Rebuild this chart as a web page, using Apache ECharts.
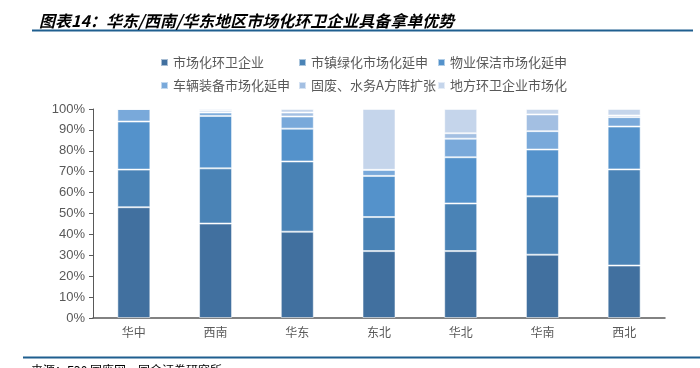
<!DOCTYPE html>
<html>
<head>
<meta charset="utf-8">
<script src="https://cdn.jsdelivr.net/npm/echarts@6/dist/echarts.min.js"></script>
<style>
html,body{margin:0;padding:0;background:#fff;}
#c{width:700px;height:368px;}
</style>
</head>
<body>
<div id="c"></div>
<script>
const categories = ['华中', '西南', '华东', '东北', '华北', '华南', '西北'];
const seriesNames = ['市场化环卫企业', '市镇绿化市场化延申', '物业保洁市场化延申', '车辆装备市场化延申', '固废、水务A方阵扩张', '地方环卫企业市场化'];
const s1 = [53.0, 45.2, 41.3, 32.0, 32.0, 30.3, 25.1];
const s2 = [18.0, 26.4, 33.6, 16.3, 22.8, 27.9, 46.0];
const s3 = [23.0, 25.1, 15.7, 19.7, 22.1, 22.4, 20.5];
const s4 = [6.0, 1.6, 5.8, 2.9, 8.9, 8.8, 4.5];
const s5 = [0, 0.9, 1.9, 0, 2.6, 8.0, 0.8];
const s6 = [0, 0.8, 1.7, 29.1, 11.6, 2.6, 3.1];
const yTicks = [0, 10, 20, 30, 40, 50, 60, 70, 80, 90, 100];
const colors = ['#41709f', '#4a83b6', '#5492cb', '#79a9da', '#a3bfe2', '#c5d5eb'];
const allData = [s1, s2, s3, s4, s5, s6];

const chart = echarts.init(document.getElementById('c'), null, {renderer: 'canvas'});
const legendText = {color: '#595959', fontSize: 13, fontFamily: 'Noto Sans CJK SC'};
const legendLefts = [155, 293, 432];
const legendTops = [51, 74];
const legends = seriesNames.map((n, i) => ({
  data: [n],
  left: legendLefts[i % 3], top: legendTops[Math.floor(i / 3)],
  itemWidth: 7, itemHeight: 7, icon: 'rect', itemGap: 0,
  textStyle: legendText
}));
chart.setOption({
  animation: false,
  color: colors,
  title: [{
    text: '图表14：华东/西南/华东地区市场化环卫企业具备拿单优势',
    left: 34, top: 8,
    textStyle: {fontSize: 16, fontWeight: 'bold', fontStyle: 'italic', color: '#000', fontFamily: 'Noto Sans CJK SC'}
  }, {
    text: '来源：E20 固废网，国金证券研究所',
    left: 26, top: 359,
    textStyle: {fontSize: 12, fontWeight: 'normal', color: '#000', fontFamily: 'Noto Sans CJK SC'}
  }],
  graphic: [
    {type: 'line', shape: {x1: 32, y1: 30.5, x2: 693, y2: 30.5}, style: {stroke: '#1f5f8f', lineWidth: 2}},
    {type: 'line', shape: {x1: 23, y1: 357.5, x2: 700, y2: 357.5}, style: {stroke: '#1f5f8f', lineWidth: 2}}
  ],
  legend: legends,
  grid: {left: 93, right: 35, top: 109, bottom: 50},
  xAxis: {
    type: 'category',
    data: categories,
    axisLine: {lineStyle: {color: '#595959', width: 1.5}},
    axisTick: {show: false},
    axisLabel: {color: '#595959', fontSize: 12, margin: 8, fontFamily: 'Noto Sans CJK SC'}
  },
  yAxis: {
    type: 'value',
    min: yTicks[0], max: yTicks[yTicks.length - 1], interval: 10,
    axisLine: {show: true, lineStyle: {color: '#595959', width: 1}},
    axisTick: {show: true, length: 4, lineStyle: {color: '#595959'}},
    splitLine: {show: false},
    axisLabel: {formatter: '{value}%', color: '#595959', fontSize: 13, margin: 8, fontFamily: 'Liberation Sans'}
  },
  series: seriesNames.map((n, i) => ({
    name: n,
    type: 'bar',
    stack: 'total',
    barWidth: 33,
    data: allData[i],
    itemStyle: {color: colors[i], borderColor: 'rgba(255,255,255,0.55)', borderWidth: 1}
  }))
});
</script>
</body>
</html>
